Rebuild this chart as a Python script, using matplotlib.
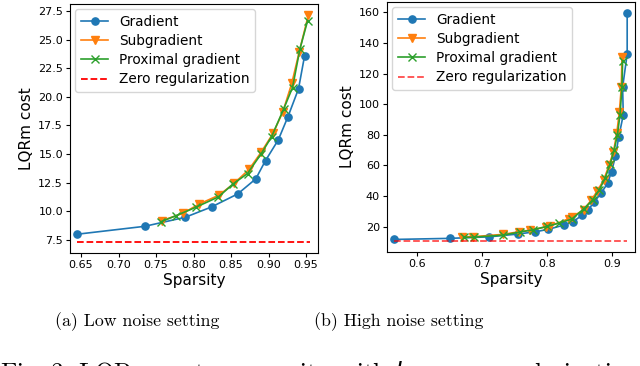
import matplotlib
matplotlib.use("Agg")
import matplotlib.pyplot as plt

# ---- Low noise (a) ----
low_grad_x = [0.645, 0.735, 0.789, 0.824, 0.859, 0.883, 0.896, 0.913, 0.926, 0.940, 0.948]
low_grad_y = [8.0, 8.69, 9.48, 10.38, 11.52, 12.83, 14.43, 16.23, 18.27, 20.69, 23.54]
low_sub_x = [0.758, 0.786, 0.807, 0.834, 0.854, 0.874, 0.890, 0.906, 0.919, 0.931, 0.941, 0.953]
low_sub_y = [9.19, 9.83, 10.62, 11.41, 12.43, 13.66, 15.14, 16.80, 18.66, 21.17, 23.93, 27.10]
low_prox_x = [0.757, 0.776, 0.803, 0.833, 0.853, 0.872, 0.890, 0.904, 0.920, 0.932, 0.942, 0.952]
low_prox_y = [9.1, 9.6, 10.35, 11.25, 12.4, 13.3, 15.0, 16.5, 18.9, 20.8, 24.2, 26.6]
low_zero_x = [0.645, 0.955]
low_zero_y = [7.35, 7.35]

# ---- High noise (b) ----
high_grad_x = [0.566, 0.651, 0.711, 0.755, 0.782, 0.802, 0.826, 0.840, 0.854, 0.863,
               0.872, 0.883, 0.893, 0.899, 0.905, 0.910, 0.917, 0.916, 0.923, 0.923]
high_grad_y = [11.7, 12.4, 13.4, 15.2, 16.7, 18.3, 21.1, 23.3, 27.6, 30.9,
               36.0, 41.9, 48.4, 56.0, 66.0, 78.5, 93.0, 111.0, 132.8, 159.5]
high_sub_x = [0.670, 0.687, 0.732, 0.757, 0.774, 0.799, 0.804, 0.833, 0.839, 0.856,
              0.868, 0.877, 0.887, 0.895, 0.902, 0.907, 0.911, 0.914, 0.915]
high_sub_y = [13.5, 13.5, 15.0, 16.7, 17.8, 20.0, 20.4, 25.2, 26.5, 31.0,
              37.4, 43.3, 50.5, 60.0, 69.0, 81.0, 95.0, 111.0, 130.6]
high_prox_x = [0.672, 0.688, 0.732, 0.758, 0.779, 0.800, 0.818, 0.838, 0.856, 0.870,
               0.880, 0.889, 0.897, 0.903, 0.908, 0.912, 0.915, 0.916]
high_prox_y = [13.0, 13.2, 14.5, 16.5, 18.0, 20.2, 22.3, 25.0, 31.5, 37.5,
               44.0, 51.5, 61.0, 70.0, 80.0, 93.0, 111.0, 128.0]
high_zero_x = [0.566, 0.923]
high_zero_y = [10.8, 10.8]

x_ticks_low = [0.65, 0.70, 0.75, 0.80, 0.85, 0.90, 0.95]
y_ticks_low = [7.5, 10.0, 12.5, 15.0, 17.5, 20.0, 22.5, 25.0, 27.5]
x_ticks_high = [0.6, 0.7, 0.8, 0.9]
y_ticks_high = [20, 40, 60, 80, 100, 120, 140, 160]

labels = ["Gradient", "Subgradient", "Proximal gradient", "Zero regularization"]
captions = ["(a) Low noise setting", "(b) High noise setting"]
fig_caption = "Fig. 3. LQRm cost vs sparsity with $l_1$-norm regularization"

W, H = 640, 366
fig = plt.figure(figsize=(6.4, 3.66), dpi=100)

def box(l, t, r, b):
    return [l / W, 1 - b / H, (r - l) / W, (b - t) / H]

ax1 = fig.add_axes(box(70, 4, 318, 253))
ax2 = fig.add_axes(box(387, 2, 635, 252))

ms = 5.2
lw = 1.2
for ax, gx, gy, sx, sy, px, py, zx, zy, zalpha in [
    (ax1, low_grad_x, low_grad_y, low_sub_x, low_sub_y, low_prox_x, low_prox_y, low_zero_x, low_zero_y, 1.0),
    (ax2, high_grad_x, high_grad_y, high_sub_x, high_sub_y, high_prox_x, high_prox_y, high_zero_x, high_zero_y, 0.7),
]:
    ax.plot(gx, gy, "-o", color="#1f77b4", ms=ms, lw=lw, label=labels[0])
    ax.plot(sx, sy, "-v", color="#ff7f0e", ms=ms + 0.5, lw=lw, label=labels[1])
    ax.plot(px, py, "-x", color="#2ca02c", ms=ms, lw=lw, label=labels[2])
    ax.plot(zx, zy, "--", color="red", lw=1.3, alpha=zalpha, label=labels[3])
    ax.set_xlabel("Sparsity", fontsize=11, labelpad=2)
    ax.set_ylabel("LQRm cost", fontsize=11, labelpad=3)
    ax.tick_params(labelsize=8, length=3, pad=2)
    ax.legend(loc="upper left", fontsize=9.8, handlelength=2.0, borderaxespad=0.4,
              labelspacing=0.38, handletextpad=0.8)

ax1.set_xticks(x_ticks_low)
ax1.set_xticklabels([f"{v:.2f}" for v in x_ticks_low])
ax1.set_yticks(y_ticks_low)
ax1.set_yticklabels([f"{v:.1f}" for v in y_ticks_low])
ax1.set_xlim(0.6353, 0.966)
ax1.set_ylim(6.36, 28.1)

ax2.set_xticks(x_ticks_high)
ax2.set_xticklabels([f"{v:.1f}" for v in x_ticks_high])
ax2.set_yticks(y_ticks_high)
ax2.set_ylim(3.5, 166.7)
ax2.set_xlim(0.5545, 0.935)

fig.text(137.5 / W, 1 - 322 / H, captions[0], ha="center", va="center",
         fontsize=12.8, family="cmr10")
fig.text(399 / W, 1 - 322 / H, captions[1], ha="center", va="center",
         fontsize=12.8, family="cmr10")
fig.text(0.0, 1 - 380 / H, fig_caption, ha="left", va="baseline",
         fontsize=18, family="cmr10")

fig.savefig("out.png", dpi=100)
